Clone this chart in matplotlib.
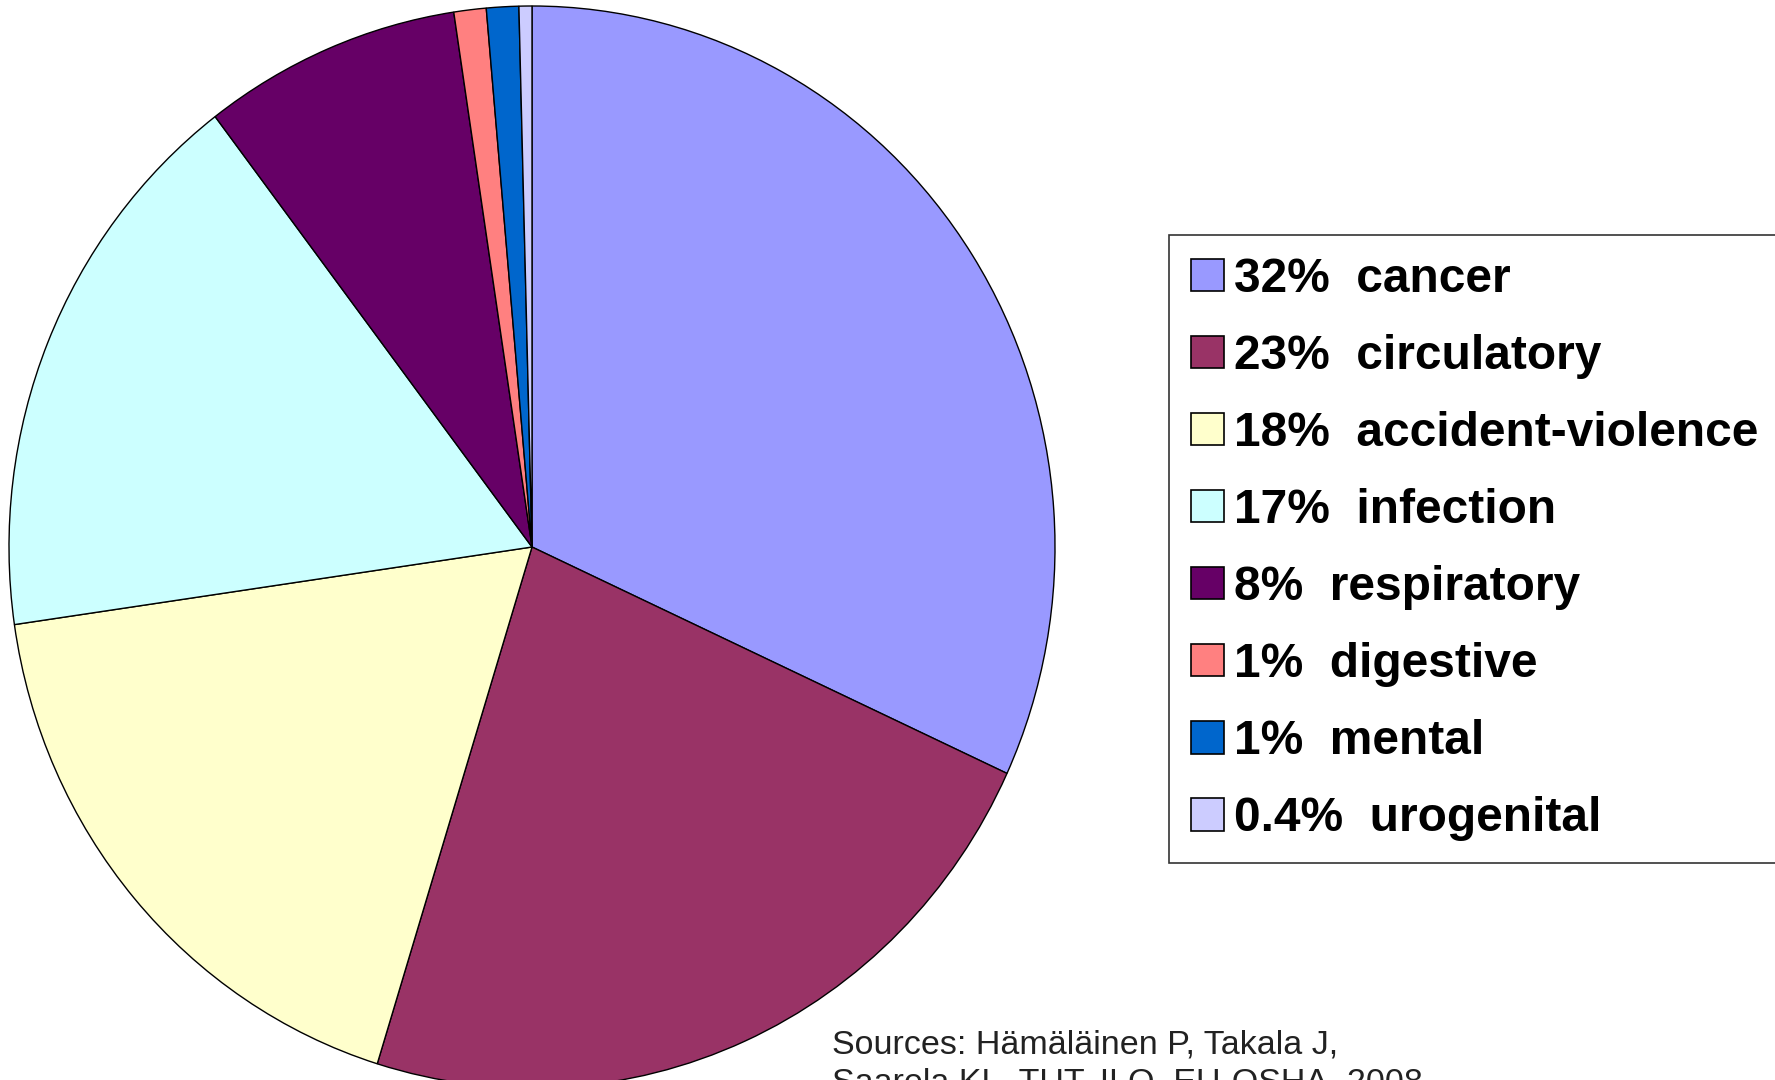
import matplotlib
matplotlib.use("Agg")
import matplotlib.pyplot as plt

# Work-related deaths by cause (percent)
causes = ["cancer", "circulatory", "accident-violence", "infection",
          "respiratory", "digestive", "mental", "urogenital"]
shares = [32, 23, 18, 17, 8, 1, 1, 0.4]
share_labels = ["32%", "23%", "18%", "17%", "8%", "1%", "1%", "0.4%"]
colors = ["#9999FF", "#993366", "#FFFFCC", "#CCFFFF",
          "#660066", "#FF8080", "#0066CC", "#CCCCFF"]
source_lines = ["Sources: Hämäläinen P, Takala J,",
                "Saarela KL, TUT, ILO, EU-OSHA, 2008"]

W, H = 1775, 1080
fig = plt.figure(figsize=(W / 100, H / 100), dpi=100)

# pie is a slightly tall ellipse, cut at the bottom edge
cx, cy, rx, ry = 532, 1080 - 547, 523, 541
ax = fig.add_axes([(cx - rx) / W, (cy - ry) / H, 2 * rx / W, 2 * ry / H])
wedges, _ = ax.pie(shares, colors=colors, startangle=90, counterclock=False,
                   radius=1, wedgeprops=dict(edgecolor="black", linewidth=1.0))
ax.set_aspect("auto")
ax.set_xlim(-1, 1)
ax.set_ylim(-1, 1)
ax.axis("off")

labels = [s + "  " + c for s, c in zip(share_labels, causes)]
leg = fig.legend(wedges, labels, loc="upper left",
                 bbox_to_anchor=(1169 / W, 1 - 235 / H),
                 prop=dict(family="Liberation Sans", weight="bold", size=34.5),
                 frameon=True, fancybox=False, edgecolor="black",
                 borderaxespad=0, borderpad=0.45, labelspacing=0.67,
                 handlelength=0.7, handleheight=0.66, handletextpad=0.2)
leg.get_frame().set_linewidth(1.2)
for h in leg.legend_handles:
    h.set_linewidth(1.2)

fig.text(832 / W, 1 - 1030 / H, source_lines[0], ha="left", va="top",
         family="Liberation Sans", fontsize=24.5, color="#222222")
fig.text(832 / W, 1 - 1068 / H, source_lines[1], ha="left", va="top",
         family="Liberation Sans", fontsize=24.5, color="#222222")

fig.savefig("out.png", dpi=100)
